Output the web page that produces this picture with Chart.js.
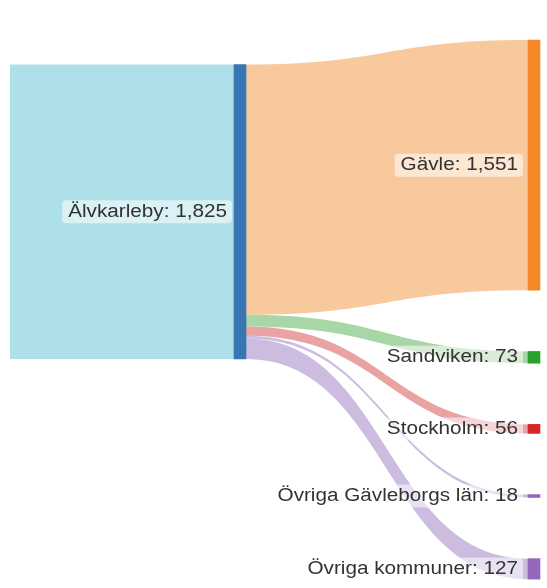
<!DOCTYPE html>
<html>
<head>
<meta charset="utf-8">
<script src="https://cdn.jsdelivr.net/npm/chart.js@4.4.1/dist/chart.umd.min.js"></script>
<style>
  html, body { margin: 0; padding: 0; background: #fff; }
  #wrap { width: 547px; height: 588px; }
</style>
</head>
<body>
<div id="wrap"><canvas id="chartSankey"></canvas></div>
<script>
// data
const sourceName = 'Älvkarleby';
const targetNames = ['Gävle', 'Sandviken', 'Stockholm', 'Övriga Gävleborgs län', 'Övriga kommuner'];
const flowValues = [1551, 73, 56, 18, 127];

// styles
const sourceColor = '#3776b3';
const rootLinkColor = '#ade0e8';
const targetColors = ['#f6882a', '#2ca02c', '#d62728', '#9467bd', '#9467bd'];
const linkColors = ['#f9c99e', '#a8d6a6', '#e8a3a2', '#cbbce0', '#cbbce0'];

// layout (x in pixels, y in value units)
const COL_X = [10, 234, 528];   // root, source, targets (left edge)
const NODE_W = 12;
const Y_MAX = 3644;
const SRC_TOP = 400;
const TGT_TOP = 248;
const TGT_GAP = 379;
const FONT_PX = 18;
const TEXT_SX = 1.15;

const fmt = v => v.toLocaleString('en-US');
const sourceTotal = flowValues.reduce((a, b) => a + b, 0);

// node spans in value units
const srcSpan = [SRC_TOP, SRC_TOP + sourceTotal];
const tgtSpans = [];
let cursor = TGT_TOP;
flowValues.forEach(v => { tgtSpans.push([cursor, cursor + v]); cursor += v + TGT_GAP; });

const nodeBars = [{ x: COL_X[1] + NODE_W / 2, y: srcSpan }]
  .concat(tgtSpans.map(s => ({ x: COL_X[2] + NODE_W / 2, y: s })));
const nodeColors = [sourceColor].concat(targetColors);

function linkPath(ctx, x0, x1, a0, b0, a1, b1) {
  const xm = (x0 + x1) / 2;
  ctx.beginPath();
  ctx.moveTo(x0, a0);
  ctx.bezierCurveTo(xm, a0, xm, a1, x1, a1);
  ctx.lineTo(x1, b1);
  ctx.bezierCurveTo(xm, b1, xm, b0, x0, b0);
  ctx.closePath();
}

function roundRect(ctx, x, y, w, h, r) {
  ctx.beginPath();
  ctx.moveTo(x + r, y);
  ctx.arcTo(x + w, y, x + w, y + h, r);
  ctx.arcTo(x + w, y + h, x, y + h, r);
  ctx.arcTo(x, y + h, x, y, r);
  ctx.arcTo(x, y, x + w, y, r);
  ctx.closePath();
}

const sankeyLinks = {
  id: 'sankeyLinks',
  beforeDatasetsDraw(chart) {
    const ctx = chart.ctx, xs = chart.scales.x, ys = chart.scales.y;
    ctx.save();
    // root -> source
    linkPath(ctx, xs.getPixelForValue(COL_X[0]), xs.getPixelForValue(COL_X[1]),
      ys.getPixelForValue(srcSpan[0]), ys.getPixelForValue(srcSpan[1]),
      ys.getPixelForValue(srcSpan[0]), ys.getPixelForValue(srcSpan[1]));
    ctx.fillStyle = rootLinkColor;
    ctx.fill();
    // source -> targets
    let off = srcSpan[0];
    flowValues.forEach((v, i) => {
      linkPath(ctx, xs.getPixelForValue(COL_X[1] + NODE_W), xs.getPixelForValue(COL_X[2]),
        ys.getPixelForValue(off), ys.getPixelForValue(off + v),
        ys.getPixelForValue(tgtSpans[i][0]), ys.getPixelForValue(tgtSpans[i][1]));
      ctx.fillStyle = linkColors[i];
      ctx.fill();
      off += v;
    });
    ctx.restore();
  },
  afterDatasetsDraw(chart) {
    const ctx = chart.ctx, xs = chart.scales.x, ys = chart.scales.y;
    ctx.save();
    ctx.font = FONT_PX + 'px "Liberation Sans", Arial, sans-serif';
    ctx.textBaseline = 'middle';
    const label = (text, right, yMid) => {
      const w = ctx.measureText(text).width * TEXT_SX;
      const left = right - w;
      ctx.fillStyle = 'rgba(255,255,255,0.55)';
      roundRect(ctx, left - 6, yMid - 11.5, w + 11, 23, 4);
      ctx.fill();
      ctx.fillStyle = '#333';
      ctx.save();
      ctx.translate(left, yMid);
      ctx.scale(TEXT_SX, 1);
      ctx.textAlign = 'left';
      ctx.fillText(text, 0, 0);
      ctx.restore();
    };
    label(sourceName + ': ' + fmt(sourceTotal), xs.getPixelForValue(COL_X[1]) - 7,
      ys.getPixelForValue((srcSpan[0] + srcSpan[1]) / 2));
    targetNames.forEach((name, i) => {
      label(name + ': ' + fmt(flowValues[i]), xs.getPixelForValue(COL_X[2]) - 10,
        ys.getPixelForValue((tgtSpans[i][0] + tgtSpans[i][1]) / 2));
    });
    ctx.restore();
  }
};

new Chart(document.getElementById('chartSankey').getContext('2d'), {
  type: 'bar',
  data: {
    datasets: [{
      data: nodeBars,
      backgroundColor: nodeColors,
      borderWidth: 0,
      barThickness: NODE_W
    }]
  },
  options: {
    responsive: true,
    maintainAspectRatio: false,
    animation: false,
    layout: { padding: 0 },
    plugins: {
      legend: { display: false },
      tooltip: { enabled: false }
    },
    scales: {
      x: { type: 'linear', min: 0, max: 547, offset: false, display: false },
      y: { min: 0, max: Y_MAX, reverse: true, display: false }
    }
  },
  plugins: [sankeyLinks]
});
</script>
</body>
</html>
